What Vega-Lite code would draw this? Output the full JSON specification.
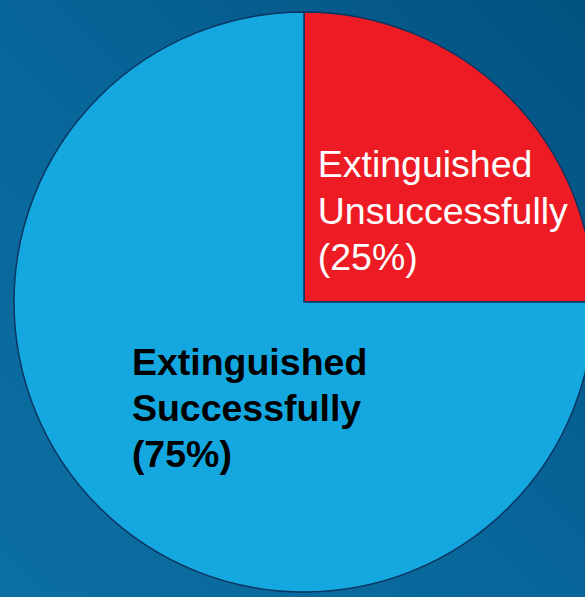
{
  "$schema": "https://vega.github.io/schema/vega-lite/v6.json",
  "width": 585,
  "height": 597,
  "autosize": {"type": "none"},
  "padding": 0,
  "background": "#07629A",
  "view": {
    "stroke": null,
    "fill": {
      "gradient": "linear",
      "x1": 0, "y1": 1, "x2": 1, "y2": 0,
      "stops": [
        {"offset": 0, "color": "#0C6FA1"},
        {"offset": 0.5, "color": "#08659A"},
        {"offset": 1, "color": "#02527F"}
      ]
    }
  },
  "data": {
    "values": [
      {"category": "Unsuccessful", "pct": 25, "label": "Extinguished\nUnsuccessfully\n(25%)"},
      {"category": "Successful", "pct": 75, "label": "Extinguished\nSuccessfully\n(75%)"}
    ]
  },
  "encoding": {
    "theta": {"field": "pct", "type": "quantitative", "stack": true},
    "order": {"field": "category", "sort": "descending"}
  },
  "layer": [
    {
      "mark": {"type": "arc", "radius": 290, "xOffset": 11.5, "yOffset": 3.5, "stroke": "#0B3560", "strokeWidth": 1.5},
      "encoding": {
        "color": {
          "field": "category",
          "type": "nominal",
          "scale": {"domain": ["Unsuccessful", "Successful"], "range": ["#ED1C24", "#15A8E0"]},
          "legend": null
        }
      }
    },
    {
      "mark": {
        "type": "text", "radius": 100, "align": "left", "baseline": "middle",
        "dx": -45.5, "dy": -61.5, "font": "Liberation Sans", "fontSize": 37.5,
        "lineHeight": 46.5, "lineBreak": "\n", "color": "#FFFFFF"
      },
      "encoding": {
        "text": {"condition": {"test": "datum.category === 'Unsuccessful'", "field": "label"}, "value": ""}
      }
    },
    {
      "mark": {
        "type": "text", "radius": 242, "align": "left", "baseline": "middle",
        "dx": 10.5, "dy": -105.5, "font": "Liberation Sans", "fontSize": 37.5, "fontWeight": "bold",
        "lineHeight": 46, "lineBreak": "\n", "color": "#000000"
      },
      "encoding": {
        "text": {"condition": {"test": "datum.category === 'Successful'", "field": "label"}, "value": ""}
      }
    }
  ]
}
